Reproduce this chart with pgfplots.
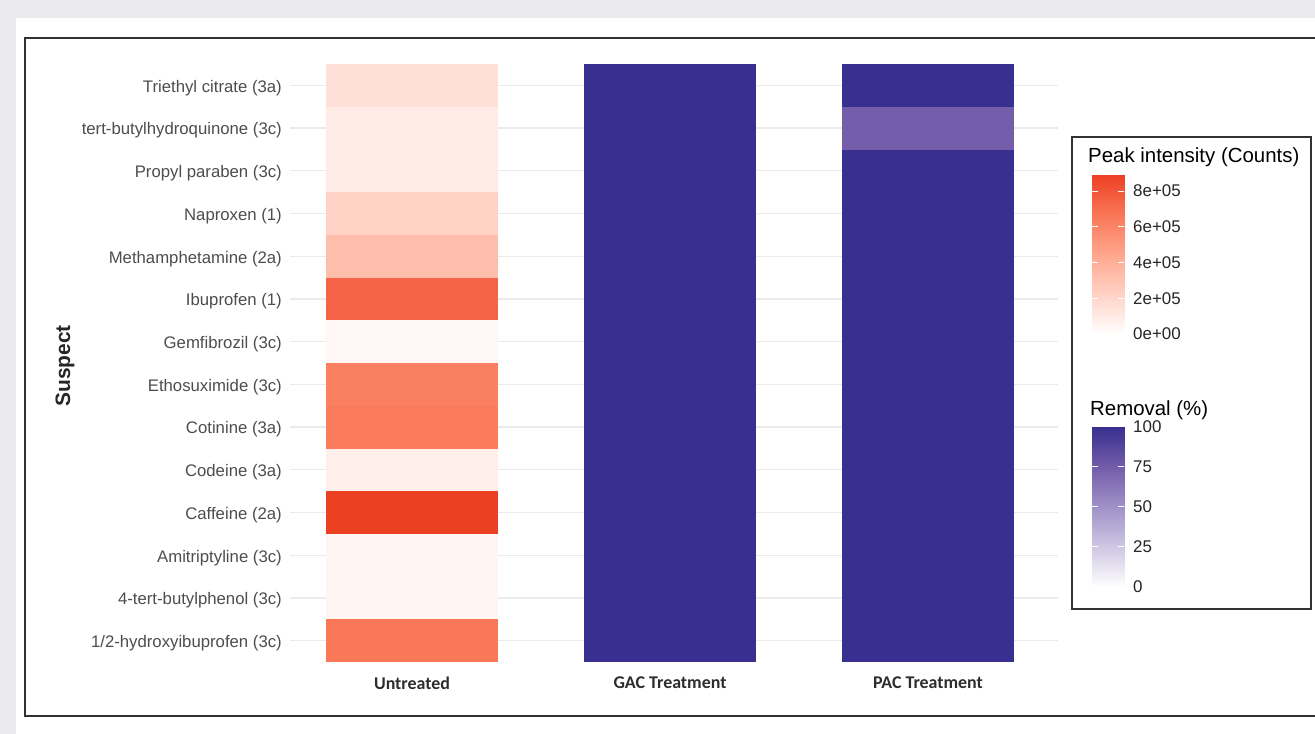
\documentclass[border=0pt]{standalone}
\usepackage{fontspec}
\setmainfont{Liberation Sans}
\newfontfamily\carlito{Carlito}
\usepackage{pgfplots}
\pgfplotsset{compat=1.18}
\usepackage{pgfplotstable}

\definecolor{bggray}{RGB}{235,235,237}
\definecolor{gridgray}{RGB}{235,235,235}
\definecolor{framegray}{RGB}{50,50,50}
\definecolor{ticktext}{RGB}{77,77,77}
\definecolor{xlabtext}{RGB}{45,45,45}

\pgfplotsset{
  colormap={peakreds}{rgb255(0cm)=(255,255,255) rgb255(1cm)=(255,210,197) rgb255(2cm)=(255,166,141) rgb255(3cm)=(250,119,88) rgb255(4cm)=(236,64,35)},
  colormap={removal}{rgb255(0cm)=(255,255,255) rgb255(1cm)=(207,199,227) rgb255(2cm)=(160,145,200) rgb255(3cm)=(116,93,170) rgb255(4cm)=(56,47,144)},
}

\pgfdeclareplotmark{tile}{%
  \pgfpathrectanglecorners{\pgfpoint{-86bp}{-21.45bp}}{\pgfpoint{86bp}{21.45bp}}%
  \pgfusepathqfill}

% Untreated peak intensities (counts); y = 1 (bottom) ... 14 (top)
\pgfplotstableread{
x y v
0 1 668000
0 2 45000
0 3 45000
0 4 890000
0 5 84000
0 6 645000
0 7 625000
0 8 40000
0 9 744000
0 10 326000
0 11 222000
0 12 96000
0 13 96000
0 14 151000
}\untreated

% Removal (%)
\pgfplotstableread{
x y v
1 1 100
1 2 100
1 3 100
1 4 100
1 5 100
1 6 100
1 7 100
1 8 100
1 9 100
1 10 100
1 11 100
1 12 100
1 13 100
1 14 100
2 1 100
2 2 100
2 3 100
2 4 100
2 5 100
2 6 100
2 7 100
2 8 100
2 9 100
2 10 100
2 11 100
2 12 100
2 13 75
2 14 100
}\removal

\begin{document}
\begin{tikzpicture}
\useasboundingbox (0,0) rectangle (1315bp,734bp);
\clip (0,0) rectangle (1315bp,734bp);
\fill[bggray] (0,0) rectangle (1315bp,734bp);
\fill[white] (16bp,0) rectangle (1315bp,716bp);
\draw[framegray, line width=2.5bp] (25bp,18bp) rectangle (1330bp,696bp);

\begin{axis}[
  at={(290bp,72bp)}, anchor=south west,
  scale only axis, width=768bp, height=598bp,
  xmin=-0.473, xmax=2.504, ymin=0.5, ymax=14.5,
  clip=false,
  axis line style={draw=none},
  major tick length=0pt, tick style={draw=none},
  xtick={0,1,2},
  xticklabels={Untreated,GAC Treatment,PAC Treatment},
  xticklabel style={font=\carlito\bfseries\fontsize{18}{20}\selectfont, text=xlabtext, anchor=north, inner sep=0pt},
  xticklabel shift=14.5bp,
  ytick={1,2,3,4,5,6,7,8,9,10,11,12,13,14},
  yticklabels={1/2-hydroxyibuprofen (3c),4-tert-butylphenol (3c),Amitriptyline (3c),Caffeine (2a),Codeine (3a),Cotinine (3a),Ethosuximide (3c),Gemfibrozil (3c),Ibuprofen (1),Methamphetamine (2a),Naproxen (1),Propyl paraben (3c),tert-butylhydroquinone (3c),Triethyl citrate (3a)},
  yticklabel style={font=\fontsize{16.8}{20}\selectfont, text=ticktext, anchor=east, inner sep=0pt, yshift=-2.5bp},
  yticklabel shift=8bp,
  ymajorgrids, major grid style={draw=gridgray, line width=1.2bp},
  colormap name=peakreds, point meta min=0, point meta max=890000,
]
\addplot[scatter, only marks, mark=tile, scatter src=explicit,
  scatter/use mapped color={draw=none, fill=mapped color}]
  table[x=x, y=y, meta=v] {\untreated};
\end{axis}

\begin{axis}[
  at={(290bp,72bp)}, anchor=south west,
  scale only axis, width=768bp, height=598bp,
  xmin=-0.473, xmax=2.504, ymin=0.5, ymax=14.5,
  clip=false, hide axis,
  colormap name=removal, point meta min=0, point meta max=100,
]
\addplot[scatter, only marks, mark=tile, scatter src=explicit,
  scatter/use mapped color={draw=none, fill=mapped color}]
  table[x=x, y=y, meta=v] {\removal};
\end{axis}

% legend
\fill[white] (1072bp,125bp) rectangle (1311bp,597bp);
\draw[framegray, line width=2bp] (1072bp,125bp) rectangle (1311bp,597bp);
\node[anchor=west, font=\fontsize{20.5}{24}\selectfont, inner sep=0pt] at (1088bp,577bp) {Peak intensity (Counts)};
\node[anchor=west, font=\fontsize{20.5}{24}\selectfont, inner sep=0pt] at (1090bp,324bp) {Removal (\%)};

\begin{axis}[
  at={(1092bp,400bp)}, anchor=south west,
  scale only axis, width=32bp, height=159bp,
  xmin=0, xmax=1, ymin=0, ymax=890000,
  axis line style={draw=none}, xtick=\empty,
  ytick={0,200000,400000,600000,800000},
  yticklabels={0e+00,2e+05,4e+05,6e+05,8e+05},
  scaled y ticks=false,
  yticklabel pos=right, ytick pos=both, tick align=inside,
  major tick length=6bp,
  ytick style={draw=white, line width=1bp},
  yticklabel style={font=\fontsize{17}{20}\selectfont, text=black!85, anchor=west, inner sep=0pt},
  yticklabel shift=9bp,
  colormap name=peakreds, point meta min=0, point meta max=890000,
  axis on top,
]
\addplot[patch, patch type=rectangle, shader=interp, point meta=y]
  coordinates {(0,0) (1,0) (1,890000) (0,890000)};
\end{axis}

\begin{axis}[
  at={(1092bp,147bp)}, anchor=south west,
  scale only axis, width=32bp, height=160bp,
  xmin=0, xmax=1, ymin=0, ymax=100,
  axis line style={draw=none}, xtick=\empty,
  ytick={0,25,50,75,100},
  yticklabels={0,25,50,75,100},
  yticklabel pos=right, ytick pos=both, tick align=inside,
  major tick length=6bp,
  ytick style={draw=white, line width=1bp},
  yticklabel style={font=\fontsize{17}{20}\selectfont, text=black!85, anchor=west, inner sep=0pt},
  yticklabel shift=9bp,
  colormap name=removal, point meta min=0, point meta max=100,
  axis on top,
]
\addplot[patch, patch type=rectangle, shader=interp, point meta=y]
  coordinates {(0,0) (1,0) (1,100) (0,100)};
\end{axis}

\node[rotate=90, font=\bfseries\fontsize{21}{24}\selectfont, text=black!85] at (65bp,368bp) {Suspect};
\end{tikzpicture}
\end{document}
